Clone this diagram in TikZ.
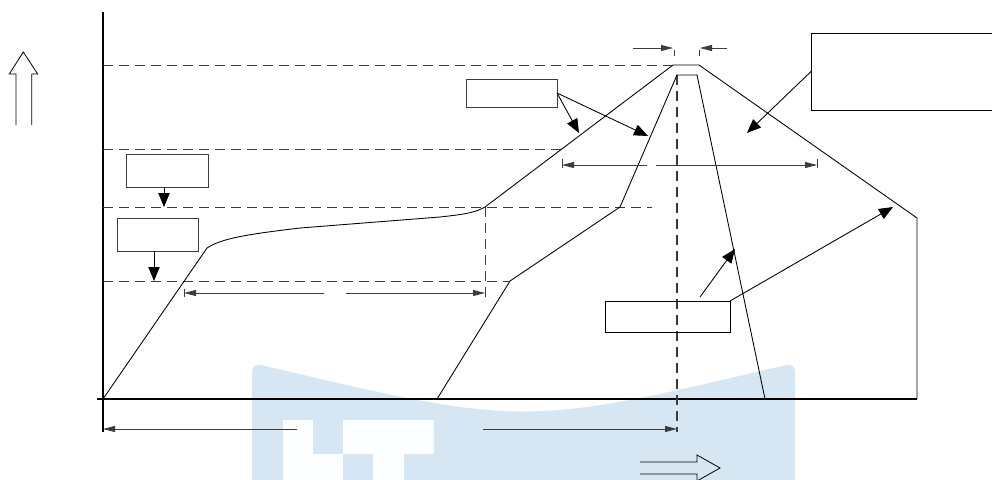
\documentclass[tikz,border=0pt]{standalone}
\usetikzlibrary{arrows.meta}
\definecolor{wmblue}{RGB}{214,231,243}
\definecolor{wmwhite}{RGB}{253,254,255}
\definecolor{dgray}{RGB}{60,60,60}
\begin{document}
\begin{tikzpicture}[x=0.75pt,y=-0.75pt,
  solidln/.style={draw=black,line width=0.65pt},
  axisln/.style={draw=black,line width=0.8pt},
  dashln/.style={draw=dgray,line width=0.65pt,dash pattern=on 7.5pt off 4.5pt},
  centerln/.style={draw=dgray,line width=0.9pt,dash pattern=on 7.5pt off 4.5pt},
  box/.style={draw=dgray,line width=0.7pt,fill=none,inner sep=0pt,outer sep=0pt},
  pointer/.style={draw=black,line width=0.65pt,-{Triangle[length=10.5pt,width=8.5pt]}},
  dimarrow/.style={draw=dgray,line width=0.65pt,-{Triangle[length=9pt,width=4.5pt]}},
  tickln/.style={draw=dgray,line width=0.65pt},
  hollow/.style={draw=black,line width=0.6pt},
]
\useasboundingbox (0,0) rectangle (992,479);
\fill[white] (0,0) rectangle (992,479);

% watermark background
\fill[wmblue] (252,490) -- (252,372) .. controls (252,366) and (256,364) .. (261,365)
  .. controls (523.5,427) .. (786,365) .. controls (791,364) and (795,366) .. (795,372)
  -- (795,490) -- cycle;
\fill[wmwhite] (283,420) rectangle (313,454);
\fill[wmwhite] (343,420) rectangle (434,454);
\fill[wmwhite] (283,454) rectangle (343,490);
\fill[wmwhite] (373,454) rectangle (404,490);

% axes
\draw[axisln] (103,12) -- (103,432);
\draw[axisln] (97,399) -- (917,399);

% dashed level lines
\draw[dashln] (103,65) -- (673,65);
\draw[dashln] (103,149) -- (563,149);
\draw[dashln] (103,207) -- (652,207);
\draw[dashln] (103,281) -- (510,281);
\draw[dashln] (485,207) -- (485,300);
\draw[centerln] (677,75) -- (677,432);

% outer dam outline
\draw[solidln] (103,399) -- (207,248) .. controls (222,238) and (250,234) .. (300,228)
  -- (440,217) .. controls (468,214) and (476,212) .. (485,207)
  -- (673,65) -- (699,65) -- (917,218) -- (917,399);

% core
\draw[solidln] (437,399) -- (510,281) -- (620,207) -- (677,75) -- (697,75) -- (765,399);

% boxes
\node[box,minimum width=61.5pt,minimum height=24.75pt] (A) at (167,170.5) {};
\node[box,minimum width=60.75pt,minimum height=24.75pt] (B) at (157.5,234.5) {};
\node[box,minimum width=68.25pt,minimum height=21pt] (C) at (511.5,93) {};
\node[box,draw=black,minimum width=141.75pt,minimum height=57.75pt] (D) at (905.5,71.5) {};
\node[box,draw=black,minimum width=93.75pt,minimum height=23.25pt] (E) at (667.5,316.5) {};

% targets
\coordinate (a1) at (164,207);
\coordinate (b1) at (154,281);
\coordinate (c1) at (579,133);
\coordinate (c2) at (648,136);
\coordinate (d1) at (747,133);
\coordinate (e0) at (700,297);
\coordinate (e1) at (735,249);
\coordinate (e2) at (893,207);

\draw[pointer] (A.south -| a1) -- (a1);
\draw[pointer] (B.south -| b1) -- (b1);
\draw[pointer] (C.east) -- (c1);
\draw[pointer] (C.east) -- (c2);
\draw[pointer] (D.west) -- (d1);
\draw[pointer] (e0) -- (e1);
\draw[pointer] (E.north east) -- (e2);

% dimension lines
\coordinate (t1a) at (633,48); \coordinate (t1b) at (673,48);
\coordinate (t2a) at (727,48); \coordinate (t2b) at (700,48);
\draw[dimarrow] (t1a) -- (t1b);
\draw[dimarrow] (t2a) -- (t2b);
\coordinate (k1a) at (674,50); \coordinate (k1b) at (674,56);
\coordinate (k2a) at (699,50); \coordinate (k2b) at (699,56);
\draw[tickln] (k1a) -- (k1b);
\draw[tickln] (k2a) -- (k2b);

\coordinate (m1a) at (647,165); \coordinate (m1b) at (562,165);
\coordinate (m2a) at (656,165); \coordinate (m2b) at (817,165);
\draw[dimarrow] (m1a) -- (m1b);
\draw[dimarrow] (m2a) -- (m2b);
\coordinate (mk1a) at (562,159); \coordinate (mk1b) at (562,168);
\coordinate (mk2a) at (817,159); \coordinate (mk2b) at (817,168);
\draw[tickln] (mk1a) -- (mk1b);
\draw[tickln] (mk2a) -- (mk2b);

\coordinate (n1a) at (324,293); \coordinate (n1b) at (184,293);
\coordinate (n2a) at (346,293); \coordinate (n2b) at (485,293);
\draw[dimarrow] (n1a) -- (n1b);
\draw[dimarrow] (n2a) -- (n2b);
\coordinate (nk1a) at (184,289); \coordinate (nk1b) at (184,297);
\draw[tickln] (nk1a) -- (nk1b);

\coordinate (p1a) at (297,429); \coordinate (p1b) at (103,429);
\coordinate (p2a) at (483,429); \coordinate (p2b) at (677,429);
\draw[dimarrow] (p1a) -- (p1b);
\draw[dimarrow] (p2a) -- (p2b);

% hollow direction arrows
\draw[hollow] (16,125) -- (16,74) -- (9.3,74) -- (23.3,52) -- (37.7,74) -- (31.7,74) -- (31.7,125);
\draw[hollow] (640,462) -- (697,462) -- (697,455) -- (720,468) -- (697,481) -- (697,474) -- (640,474);
\end{tikzpicture}
\end{document}
